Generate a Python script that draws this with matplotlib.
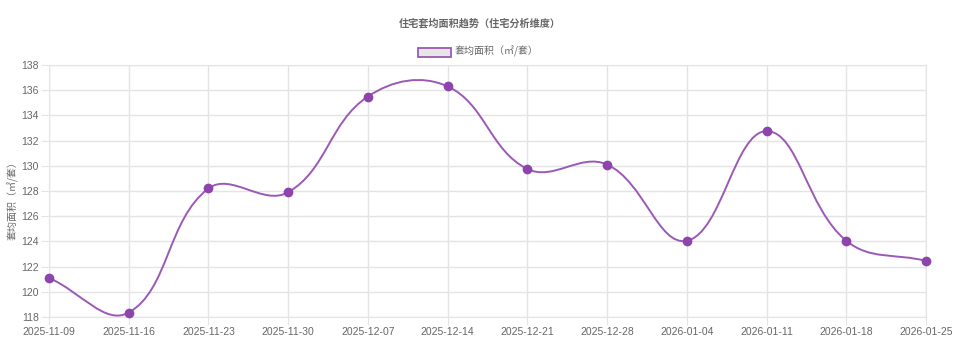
import matplotlib
matplotlib.use("Agg")
import matplotlib.pyplot as plt
from matplotlib.path import Path
from matplotlib.patches import PathPatch, Rectangle
import numpy as np

dates = ["2025-11-09", "2025-11-16", "2025-11-23", "2025-11-30", "2025-12-07", "2025-12-14",
         "2025-12-21", "2025-12-28", "2026-01-04", "2026-01-11", "2026-01-18", "2026-01-25"]
avg_area = [121.1, 118.35, 128.2, 127.9, 135.5, 136.3, 129.75, 130.1, 124.05, 132.75, 124.05, 122.45]
y_ticks = [118, 120, 122, 124, 126, 128, 130, 132, 134, 136, 138]

title = "住宅套均面积趋势（住宅分析维度）"
series_name = "套均面积（㎡/套）"
y_label = "套均面积（㎡/套）"

cjk = ["Noto Sans CJK SC", "DejaVu Sans"]
latin = ["Liberation Sans", "DejaVu Sans"]
plt.rcParams['font.family'] = cjk

W, H = 960, 349
fig = plt.figure(figsize=(W / 100, H / 100), dpi=100)
L, R, T, B = 49, 926, 65, 317
ax = fig.add_axes([L / W, (H - B) / H, (R - L) / W, (B - T) / H])

x = np.arange(len(dates))
ax.set_xlim(0, len(dates) - 1)
ax.set_ylim(118, 138)
ax.set_yticks(y_ticks)
ax.set_xticks(x)
ax.set_xticklabels(dates)
grid_c = "#e4e4e4"
ax.grid(True, color=grid_c, linewidth=1)
ax.set_axisbelow(True)
for s in ax.spines.values():
    s.set_color(grid_c)
ax.tick_params(axis='both', length=6, color=grid_c, labelcolor="#666666", labelsize=7.5, pad=1.5)
for lab in ax.get_xticklabels() + ax.get_yticklabels():
    lab.set_fontfamily(latin)

fig.text(13 / W, 1 - 198 / H, y_label, rotation=90, ha="center", va="center",
         fontsize=7.2, color="#666666")

line_c = "#9b59b6"
point_c = "#8e44ad"

# Chart.js style bezier (tension 0.4) computed in pixel space
fig.canvas.draw()
pts = ax.transData.transform(np.column_stack([x, avg_area]))
t = 0.4
n = len(pts)
verts = [pts[0]]
codes = [Path.MOVETO]
ctrl_prev = []
ctrl_next = []
for i in range(n):
    p0 = pts[i - 1] if i > 0 else pts[i]
    p1 = pts[i]
    p2 = pts[i + 1] if i < n - 1 else pts[i]
    d01 = np.hypot(*(p1 - p0))
    d12 = np.hypot(*(p2 - p1))
    tot = d01 + d12
    s01 = d01 / tot if tot else 0
    s12 = d12 / tot if tot else 0
    ctrl_prev.append(p1 - t * s01 * (p2 - p0))
    ctrl_next.append(p1 + t * s12 * (p2 - p0))
for i in range(1, n):
    verts += [ctrl_next[i - 1], ctrl_prev[i], pts[i]]
    codes += [Path.CURVE4] * 3
inv = ax.transData.inverted()
data_verts = inv.transform(np.array(verts))
patch = PathPatch(Path(data_verts, codes), facecolor="none", edgecolor=line_c, linewidth=1.4, zorder=3)
ax.add_patch(patch)
ax.plot(x, avg_area, linestyle="none", marker="o", markersize=6, color=point_c,
        markeredgecolor=point_c, zorder=4, clip_on=False)

fig.text(480 / W, 1 - 23 / H, title, ha="center", va="center", fontsize=7.3, fontweight="bold", color="#666666")
fig.patches.append(Rectangle((418 / W, 1 - 56.5 / H), 33 / W, 8.5 / H, transform=fig.transFigure,
                             facecolor="#e6e6e6", edgecolor=line_c, linewidth=1.3))
fig.text(455 / W, 1 - 51.5 / H, series_name, ha="left", va="center", fontsize=7.2, color="#666666")

fig.savefig("out.png", dpi=100)
